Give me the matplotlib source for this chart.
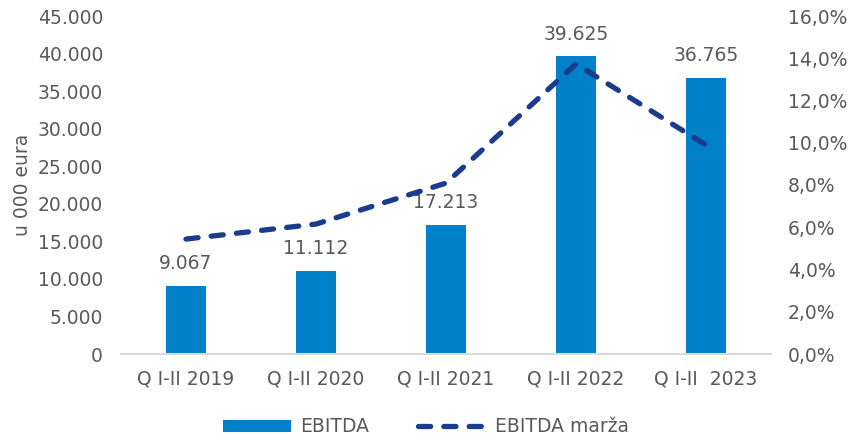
import matplotlib
matplotlib.use("Agg")
import matplotlib.pyplot as plt
from matplotlib.ticker import FuncFormatter
import numpy as np

categories = ["Q I-II 2019", "Q I-II 2020", "Q I-II 2021", "Q I-II 2022", "Q I-II  2023"]
ebitda = [9067, 11112, 17213, 39625, 36765]
margin = [5.44, 6.15, 8.09, 13.73, 9.89]

bar_color = "#0080C8"
line_color = "#1B3C8C"
text_color = "#595959"
fs = 13.5

plt.rcParams["font.family"] = ["DejaVu Sans"]
fig = plt.figure(figsize=(8.52, 4.37), dpi=100)
ax = fig.add_axes([121/852, 1-354/437, 650/852, 338/437])
x = np.arange(len(categories))
ax.bar(x, ebitda, width=0.31, color=bar_color, label="EBITDA", zorder=2)
ax.set_xlim(-0.5, len(categories) - 0.5)
ax.set_ylim(0, 45000)
ax.set_yticks(np.arange(0, 45001, 5000))
ax.yaxis.set_major_formatter(FuncFormatter(lambda v, p: f"{int(v):,}".replace(",", ".")))
ax.set_xticks(x)
ax.set_xticklabels(categories)
for xi, v in zip(x, ebitda):
    ax.annotate(f"{v:,}".replace(",", "."), (xi, v), xytext=(0, 9), textcoords="offset points",
                ha="center", va="bottom", fontsize=fs, color=text_color)
ax.set_ylabel("u 000 eura", fontsize=fs, color=text_color, labelpad=4)

ax2 = ax.twinx()
ax2.plot(x, margin, color=line_color, lw=3.8, linestyle=(0, (2.3, 2.5)), label="EBITDA marža",
         dash_capstyle="round", solid_capstyle="round", zorder=3)
ax2.set_ylim(0, 16)
ax2.set_yticks(np.arange(0, 16.1, 2))
ax2.yaxis.set_major_formatter(FuncFormatter(lambda v, p: f"{v:.1f}%".replace(".", ",")))

for a in (ax, ax2):
    for s in a.spines.values():
        s.set_visible(False)
    a.tick_params(length=0, labelsize=fs, colors=text_color)
ax.spines["bottom"].set_visible(True)
ax.spines["bottom"].set_color("#D9D9D9")
ax.spines["bottom"].set_linewidth(1.5)
ax.tick_params(axis="x", pad=11)
ax.tick_params(axis="y", pad=13)
ax2.tick_params(axis="y", pad=12)

h1, l1 = ax.get_legend_handles_labels()
h2, l2 = ax2.get_legend_handles_labels()
fig.legend(h1 + h2, l1 + l2, loc="center", bbox_to_anchor=(0.5, 1-427/437), ncol=2,
           frameon=False, fontsize=fs, labelcolor=text_color, handlelength=3.6,
           handleheight=0.6, columnspacing=2.6, handletextpad=0.5)

fig.savefig("out.png", dpi=100)
